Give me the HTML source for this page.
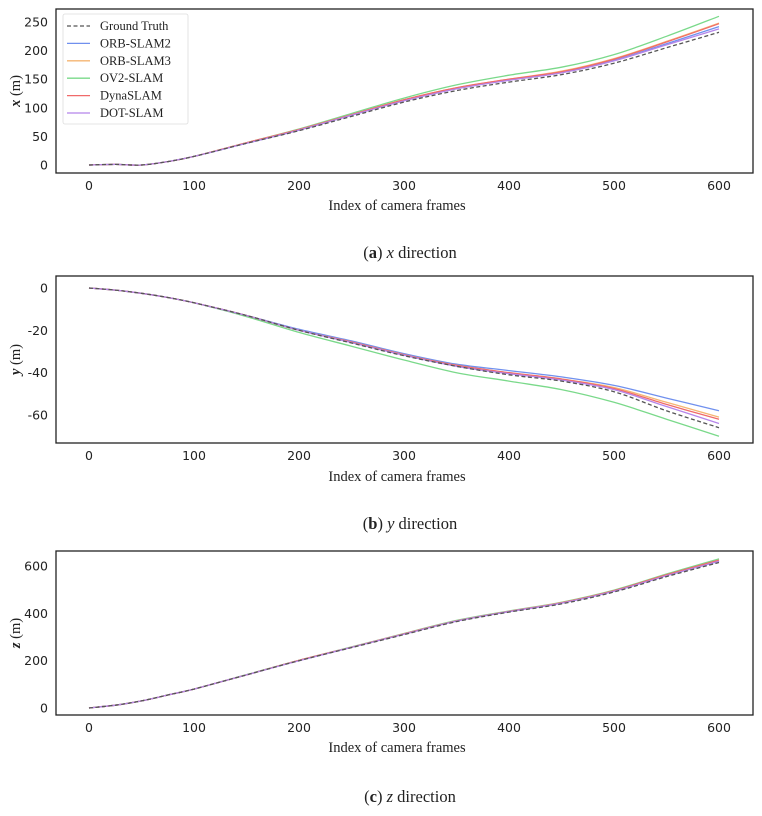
<!DOCTYPE html>
<html><head><meta charset="utf-8"><style>
body{margin:0;background:#fff;}
svg text{font-family:"DejaVu Sans",sans-serif;}
.tick{font-size:12.5px;fill:#222;}
.lab{font-family:"Liberation Serif",serif !important;font-size:14.5px;fill:#222;}
.leg{font-family:"Liberation Serif",serif !important;font-size:12.5px;fill:#222;}
</style></head><body>
<svg id="chart" width="762" height="811"></svg>
<script>
const frames=[0,25,50,75,100,150,200,250,300,350,400,450,500,550,600];
const seriesNames=["Ground Truth","ORB-SLAM2","ORB-SLAM3","OV2-SLAM","DynaSLAM","DOT-SLAM"];
const xGT  =[0,1,0,6,15,38,60,85,110,130,145,158,178,205,232];
const xORB2=[0,1,0,6,15,38,61,87,113,134,149,162,183,212,242];
const xORB3=[0,1,0,6,15,39,62,88,114,135,150,164,186,216,248];
const xOV2 =[0,1,0,6,15,39,63,90,117,140,157,171,193,225,260];
const xDyna=[0,1,0,6,15,39,62,88,114,135,150,163,185,215,247];
const xDOT =[0,1,0,6,15,38,61,87,112,133,148,161,182,210,238];
const yGT  =[0,-1,-2.5,-4.5,-7,-13,-20,-26,-32,-37,-41,-44,-49,-58,-66];
const yORB2=[0,-1,-2.5,-4.5,-7,-13,-19.5,-25,-31,-36,-39,-42,-46,-52,-58];
const yORB3=[0,-1,-2.5,-4.5,-7,-13,-20,-25.5,-31.5,-36.5,-40,-43,-47,-54,-61];
const yOV2 =[0,-1,-2.5,-4.5,-7,-13.5,-21,-27.5,-34,-40,-44,-48,-54,-62,-70];
const yDyna=[0,-1,-2.5,-4.5,-7,-13,-20,-25.5,-31.5,-36.5,-40,-43,-47.5,-55,-62];
const yDOT =[0,-1,-2.5,-4.5,-7,-13,-20,-25.8,-31.8,-37,-40.5,-43.5,-48,-56,-64];
const zGT  =[0,12,30,55,80,140,200,255,310,365,405,440,490,555,615];
const zORB2=[0,12,30,55,80,140,201,257,313,368,408,444,494,560,620];
const zORB3=[0,12,30,55,80,140,201,257,313,368,408,445,495,562,623];
const zOV2 =[0,12,30,55,80,141,202,258,315,370,410,447,498,566,630];
const zDyna=[0,12,30,55,80,140,201,257,313,368,408,445,496,563,625];
const zDOT =[0,12,30,55,80,140,200,256,312,367,407,443,493,559,620];
const xTicks=[0,100,200,300,400,500,600];
const xPanelTicks=[0,50,100,150,200,250];
const yPanelTicks=[0,-20,-40,-60];
const zPanelTicks=[0,200,400,600];

const colors=["#555","#7090ee","#f5b572","#7ad98a","#f06a6a","#b585ea"];
const NS="http://www.w3.org/2000/svg";
const svg=document.getElementById("chart");
function mk(t,a,p){const e=document.createElementNS(NS,t);for(const k in a)e.setAttribute(k,a[k]);(p||svg).appendChild(e);return e;}
const sx=f=>89+f*1.05;
function smooth(P){
 let d="M"+P[0][0].toFixed(1)+","+P[0][1].toFixed(1);
 for(let i=0;i<P.length-1;i++){
  const p0=P[Math.max(0,i-1)],p1=P[i],p2=P[i+1],p3=P[Math.min(P.length-1,i+2)];
  const c1=[p1[0]+(p2[0]-p0[0])/6,p1[1]+(p2[1]-p0[1])/6];
  const c2=[p2[0]-(p3[0]-p1[0])/6,p2[1]-(p3[1]-p1[1])/6];
  d+=` C${c1[0].toFixed(1)},${c1[1].toFixed(1)} ${c2[0].toFixed(1)},${c2[1].toFixed(1)} ${p2[0].toFixed(1)},${p2[1].toFixed(1)}`;
 }
 return d;
}

const panels=[
 {key:"x",top:9,bot:173,v0:0,p0:165,v1:250,p1:22,ticks:xPanelTicks,data:[xGT,xORB2,xORB3,xOV2,xDyna,xDOT],cap:"a",labY:210,capY:258,legend:true},
 {key:"y",top:276,bot:443,v0:0,p0:288,v1:-60,p1:415,ticks:yPanelTicks,data:[yGT,yORB2,yORB3,yOV2,yDyna,yDOT],cap:"b",labY:481,capY:529},
 {key:"z",top:551,bot:715,v0:0,p0:708,v1:600,p1:566,ticks:zPanelTicks,data:[zGT,zORB2,zORB3,zOV2,zDyna,zDOT],cap:"c",labY:752,capY:802}
];
panels.forEach(P=>{
 const g=mk("g",{});
 
 
 const sy=v=>P.p0+(v-P.v0)*(P.p1-P.p0)/(P.v1-P.v0);
 const box=mk("rect",{x:56,y:P.top,width:697,height:P.bot-P.top,fill:"none",stroke:"#222","stroke-width":1.3},g);
 
 
 xTicks.forEach(t=>{const e=mk("text",{x:sx(t),y:P.bot+17,"text-anchor":"middle",class:"tick"},g);e.textContent=t;
  
  });
 P.ticks.forEach(t=>{const e=mk("text",{x:48,y:sy(t)+4.5,"text-anchor":"end",class:"tick"},g);e.textContent=t;
  
  });
 const yl=mk("text",{transform:`translate(20,${(P.top+P.bot)/2}) rotate(-90)`,"text-anchor":"middle",class:"lab"},g);
 yl.innerHTML=`<tspan font-style="italic" font-weight="bold">${P.key}</tspan> (m)`;
 
 
 const xl=mk("text",{x:397,y:P.labY,"text-anchor":"middle",class:"lab"},g);xl.textContent="Index of camera frames";
 
 
 const cp=mk("text",{x:410,y:P.capY,"text-anchor":"middle",class:"lab"},g);
 cp.setAttribute("style","font-size:16.5px");
 cp.innerHTML=`(<tspan font-weight="bold">${P.cap}</tspan>) <tspan font-style="italic">${P.key}</tspan> direction`;
 
 
 const order=[3,1,2,4,5,0];
 order.forEach(i=>{
  const pts=P.data[i].map((v,j)=>[sx(frames[j]),sy(v)]);
  const l=mk("path",{d:smooth(pts),fill:"none",stroke:colors[i],"stroke-width":1.3,"stroke-dasharray":i==0?"4,2.5":"none","stroke-linejoin":"round"},g);
  
  
 });
 if(P.legend){
  const lg=mk("g",{},g);
  
  
  mk("rect",{x:63,y:14,width:125,height:110,fill:"#fff",stroke:"#ddd","stroke-width":0.8,rx:2},lg);
  seriesNames.forEach((n,i)=>{
   const yy=26+i*17.4;
   mk("line",{x1:67,x2:90,y1:yy,y2:yy,stroke:colors[i],"stroke-width":1.3,"stroke-dasharray":i==0?"4,2.5":"none"},lg);
   const t=mk("text",{x:100,y:yy+4,class:"leg"},lg);t.textContent=n;
   
   
  });
 }
});
</script>
</body></html>
